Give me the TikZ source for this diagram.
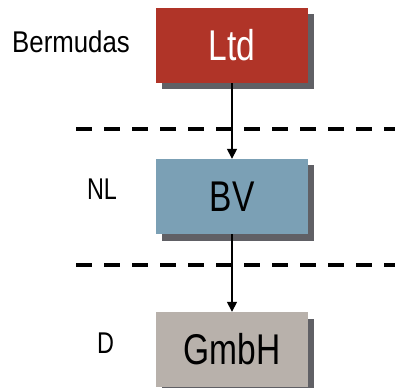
\documentclass[tikz,border=0pt]{standalone}
\usepackage{fontspec}
\setmainfont{Liberation Sans}
\usetikzlibrary{arrows.meta, shadows, positioning}

\definecolor{ltdred}{RGB}{176,52,40}
\definecolor{bvblue}{RGB}{123,160,181}
\definecolor{gmbhgray}{RGB}{184,177,171}
\definecolor{shadowgray}{RGB}{96,96,101}

% narrow letters, as in the slide
\newcommand{\narrowtext}[2][0.78]{\scalebox{#1}[1]{#2}}

\tikzset{
  entity/.style={rectangle, inner sep=0pt, minimum width=152pt, minimum height=75pt,
                 font=\fontsize{43}{48}\selectfont,
                 drop shadow={shadow xshift=5.5pt, shadow yshift=-6.5pt,
                              fill=shadowgray, opacity=1}},
  country/.style={inner sep=0pt, font=\fontsize{30}{34}\selectfont},
  border/.style={black, line width=4pt, dash pattern=on 16pt off 12pt},
  owns/.style={black, line width=1.5pt, -{Triangle[length=10pt,width=10pt]}}
}

\begin{document}
\begin{tikzpicture}[x=1pt, y=-1pt]
      \useasboundingbox (0,0) rectangle (395,387);

      % Borders between countries
      \draw[border] (76,129) -- (395,129);
      \draw[border] (76,265) -- (395,265);

      % Companies
      \node[entity, fill=ltdred, text=white] (ltd)  at (232,45.5)  {\narrowtext{Ltd}};
      \node[entity, fill=bvblue]             (bv)   at (232,196.5) {\narrowtext{BV}};
      \node[entity, fill=gmbhgray]           (gmbh) at (232,349.5) {\narrowtext{GmbH}};

      % Countries
      \node[country] (bermudas) at (71,42)    {\narrowtext[0.86]{Bermudas}};
      \node[country] (nl)       at (102,189)  {\narrowtext{NL}};
      \node[country] (de)       at (105.5,343) {\narrowtext{D}};

      % Ownership
      \draw[owns] (ltd.south) -- (bv.north);
      \draw[owns] (bv.south)  -- (gmbh.north);
\end{tikzpicture}
\end{document}
